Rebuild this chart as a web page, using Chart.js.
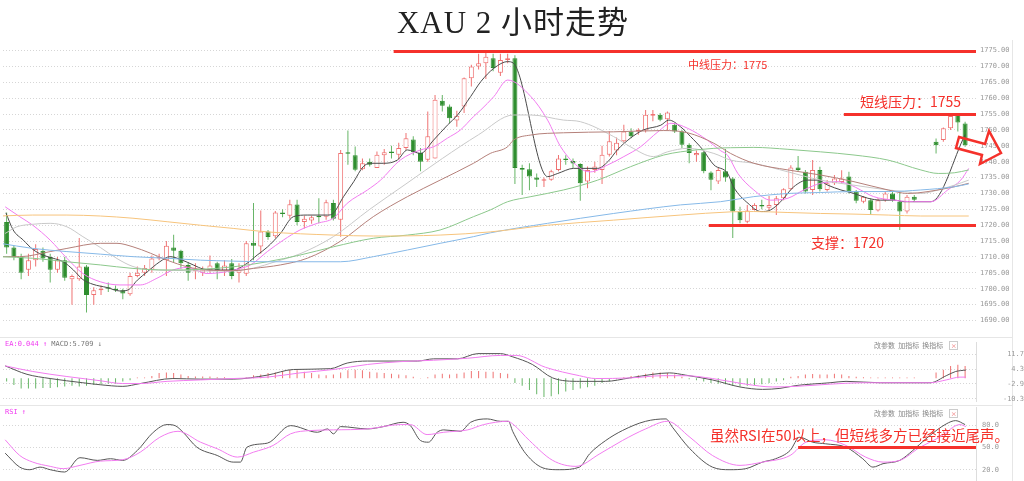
<!DOCTYPE html>
<html lang="zh">
<head>
<meta charset="utf-8">
<title>XAU 2 小时走势</title>
<script src="https://cdn.jsdelivr.net/npm/chart.js@4.4.1/dist/chart.umd.min.js"></script>
<style>
  html, body { margin: 0; padding: 0; background: #fff; }
  #wrap { position: relative; width: 1024px; height: 481px; overflow: hidden; background: #fff; }
  #wrap canvas { position: absolute; left: 0; }
  .lbl { position: absolute; white-space: nowrap; line-height: 1; font-family: "Noto Sans CJK SC", sans-serif; }
  .red { color: #f5312b; }
  .tiny { font-family: "DejaVu Sans Mono", monospace; font-size: 7px; color: #777; }
  .tool { font-size: 7px; color: #888; }
  .xbox { display: inline-block; width: 7px; height: 7px; border: 1px solid #ccc; color: #e66; font-size: 6px; line-height: 7px; text-align: center; margin-left: 6px; }
  .rule { position: absolute; background: #e6e6e6; }
</style>
</head>
<body>
<div id="wrap">
  <div class="rule" style="left:0;top:337px;width:1012px;height:1px"></div>
  <div class="rule" style="left:0;top:405px;width:1012px;height:1px"></div>
  <div class="rule" style="left:1012px;top:40px;width:1px;height:441px"></div>
  <canvas id="mainChart" width="1024" height="347" style="top:0"></canvas>
  <canvas id="macdChart" width="1024" height="90" style="top:327px"></canvas>
  <canvas id="rsiChart" width="1024" height="94" style="top:397px"></canvas>

  <div class="lbl" style="left:0;width:1026px;top:7px;text-align:center;font-size:31px;letter-spacing:1px;color:#222;font-family:'Liberation Serif','Noto Sans CJK SC',serif">XAU 2 小时走势</div>
  <div class="lbl red" style="left:688px;top:59px;font-size:11px">中线压力：1775</div>
  <div class="lbl red" style="left:860px;top:94px;font-size:14px">短线压力：1755</div>
  <div class="lbl red" style="left:811px;top:235px;font-size:14px">支撑：1720</div>
  <div class="lbl red" style="left:710px;top:428px;font-size:14.5px">虽然RSI在50以上，但短线多方已经接近尾声。</div>

  <div class="lbl tiny" style="left:5px;top:341px"><span style="color:#f03cf0">EA:0.044 ↑</span> MACD:5.709 ↓</div>
  <div class="lbl tool" style="left:874px;top:341px">改参数&nbsp;&nbsp;加指标&nbsp;&nbsp;换指标<span class="xbox">×</span></div>
  <div class="lbl tiny" style="left:5px;top:409px;color:#f03cf0">RSI ↑</div>
  <div class="lbl tool" style="left:874px;top:409px">改参数&nbsp;&nbsp;加指标&nbsp;&nbsp;换指标<span class="xbox">×</span></div>
</div>
<script>
// axis ticks
const mainTicks = [1690, 1695, 1700, 1705, 1710, 1715, 1720, 1725, 1730, 1735, 1740, 1745, 1750, 1755, 1760, 1765, 1770, 1775];
const macdTicks = [11.7, 4.3, -2.9, -10.3];
const rsiTicks = [80, 50, 20];

// 2h candles (null = no trading slot)
const candleOpen = [
  1721, 1713, 1710, 1706, 1709, 1712, 1710, 1706, 1709, 1703,
  1703, 1707, 1698, 1699.5, 1700.5, 1700, 1699.5, 1698.3, 1704, 1705,
  1706, 1709.5, 1709, 1713, 1712, 1707.5, 1705.5, 1705, 1706, 1708,
  1705.7, 1708, 1705, 1704.7, 1714.5, 1713.3, 1718, 1716.5, 1724, 1723,
  1726.5, 1721, 1721.5, 1723, 1722.7, 1727, 1721.7, 1743, 1742, 1737.6,
  1740, 1738, 1742, 1743, 1742.2, 1744.3, 1747, 1742.7, 1740.6, 1741,
  1759.2, 1757.4, 1753, 1757.4, 1766.3, 1770, 1771, 1772.6, 1768, 1772,
  1772.6, 1738, 1737.6, 1735, 1734, 1734.3, 1737.4, 1741, 1740.2, 1739.3,
  1733.8, 1737.4, 1737.4, 1742.2, 1743.5, 1746.4, 1749.5, 1749.5, 1749.8, 1754.5,
  1754.8, 1753.4, 1751.6, 1749.5, 1745.3, 1742, 1743, 1736.6, 1733.8, 1737,
  1734.7, 1724.3, 1721.1, 1724.8, 1726.4, 1725.5, 1726.4, 1728.5, 1731.3, 1738.2,
  1736.8, 1731.1, 1737.4, 1731.1, 1733.2, 1733.6, 1735.3, 1730.6, 1727.4, 1727.9,
  1724.6, 1727.9, 1730, 1727.4, 1724.3, 1729, null, null, 1746.3, 1746.8,
  1750.5, 1754.7, 1752
];
const candleHigh = [
  1724, 1713.5, 1711, 1711, 1714, 1713, 1711, 1710, 1710, 1704.5,
  1716, 1707.5, 1700.5, 1701, 1702, 1701, 1700, 1705, 1707, 1707.5,
  1710.5, 1711, 1715, 1717, 1712.3, 1708.4, 1708, 1707, 1710.5, 1708.5,
  1709, 1709.4, 1708, 1715, 1727, 1724.6, 1718.5, 1724.5, 1725, 1728,
  1728, 1723, 1723, 1728.5, 1728, 1728, 1743.7, 1749.8, 1744.8, 1741,
  1741, 1743.2, 1744, 1745, 1746, 1749, 1748, 1744.3, 1755.8, 1761,
  1761, 1758, 1756, 1766.5, 1770.5, 1774, 1775, 1774, 1774, 1774,
  1773.5, 1739, 1739.5, 1736.3, 1735, 1737.5, 1742.1, 1742, 1741, 1739.5,
  1738.5, 1740, 1745, 1749.6, 1747.6, 1751.6, 1750.5, 1750.5, 1756.3, 1756.3,
  1755.3, 1755.8, 1752.1, 1750, 1745.8, 1743.5, 1743.2, 1737, 1738, 1744,
  1735.2, 1725.8, 1726.4, 1726.9, 1728, 1729.2, 1729.2, 1731.6, 1738.9, 1741.8,
  1737.4, 1740.5, 1738.4, 1734.2, 1735.8, 1737.3, 1736.8, 1731.1, 1729.2, 1728.5,
  1728.5, 1730.6, 1730.6, 1730.6, 1729.5, 1729.5, null, null, 1747.3, 1750.8,
  1754.7, 1755.2, 1752.6
];
const candleLow = [
  1711, 1709, 1703, 1704, 1707, 1708.5, 1702, 1705, 1702.5, 1695,
  1702.5, 1692.5, 1695, 1698, 1699, 1699, 1696.7, 1697.8, 1703.6, 1704,
  1705, 1709, 1704, 1708.4, 1706.3, 1702.5, 1703, 1704, 1705, 1703,
  1704, 1703, 1702, 1704, 1709, 1711, 1715.4, 1716, 1722.5, 1722,
  1720, 1719, 1720.5, 1720.6, 1721.7, 1721.5, 1716.4, 1739, 1737, 1737.3,
  1738.5, 1738, 1739, 1741, 1740.6, 1743.7, 1742, 1737, 1740, 1741,
  1755.8, 1752, 1751, 1755.3, 1763.7, 1769, 1766, 1768.5, 1767, 1771,
  1733, 1729.5, 1731, 1732, 1732, 1734, 1737, 1739, 1738, 1727.7,
  1731.6, 1736.5, 1733, 1741.6, 1742, 1745.8, 1747.4, 1748.5, 1749.2, 1752.7,
  1752.7, 1750, 1749, 1744.3, 1739.5, 1740, 1736.4, 1731, 1733, 1733.7,
  1716, 1720.6, 1720.6, 1724.6, 1725, 1724.8, 1723.2, 1727.9, 1731.1, 1736.8,
  1730, 1729.5, 1730.6, 1730.6, 1732.7, 1733, 1730, 1726.9, 1726.9, 1723.2,
  1724.3, 1727.4, 1727.4, 1718.5, 1723.7, 1727.4, null, null, 1742.6, 1746.3,
  1750, 1749.5, 1744.7
];
const candleClose = [
  1713, 1710, 1705, 1709, 1712.5, 1709.5, 1706, 1709, 1703.5, 1704,
  1707, 1698, 1699.5, 1700, 1700, 1699.5, 1698.5, 1704, 1705, 1706.5,
  1709.5, 1710, 1713.5, 1712, 1708, 1705, 1706, 1706, 1707.3, 1705.7,
  1707.3, 1704, 1706, 1714.3, 1713.5, 1718, 1716.3, 1724, 1723.5, 1726.6,
  1721, 1722, 1722.5, 1722.5, 1727.2, 1722, 1742.7, 1742.5, 1737.5, 1739.5,
  1739, 1742.2, 1743, 1742.7, 1744.3, 1747.4, 1743, 1740, 1748, 1759.5,
  1757.6, 1753.7, 1754.5, 1766.3, 1770, 1771, 1773, 1769.5, 1772, 1772.6,
  1738, 1737.5, 1735.3, 1734.3, 1734.5, 1737, 1741, 1740.5, 1739.4, 1733.2,
  1737.4, 1738.5, 1742.2, 1746.4, 1746, 1749.5, 1748, 1750, 1754.8, 1755,
  1753.2, 1755.5, 1749.5, 1745.3, 1742.7, 1742.7, 1737, 1734.3, 1737.4, 1735,
  1724.3, 1721.6, 1724.6, 1726.4, 1725.9, 1726.4, 1728.5, 1731.3, 1738.2, 1737.4,
  1730.6, 1737.4, 1731.3, 1733.2, 1734.7, 1734.7, 1730.6, 1727.7, 1729, 1724.8,
  1727.9, 1730, 1727.9, 1724.3, 1729, 1728, null, null, 1745.2, 1750.5,
  1754.4, 1752.3, 1745.2
];

// moving averages: [candle slot, price]
const ma5 = [[-0.1,1723.9],[0.9,1718.5],[2.3,1715.3],[3.6,1712.4],[5,1710.6],[6.4,1709.6],[7.8,1708.5],[9.2,1705.9],[10.5,1702.9],[11.9,1701.4],[13.8,1700.4],[15.6,1699.3],[16.7,1699.6],[18,1702.7],[19.4,1705.4],[21.1,1708.5],[22.5,1710.1],[24.2,1709],[25.7,1707.5],[27.1,1706.2],[29,1705.9],[31.2,1705.9],[33.1,1708],[34.5,1710.6],[35.9,1713.1],[37.7,1717.4],[39.5,1722.7],[41.4,1723.2],[44.2,1723.2],[45,1723.8],[46.4,1729],[47.8,1733.7],[49.1,1738.4],[50.1,1739.5],[51.9,1739.5],[53.8,1740.5],[55.2,1743.7],[57,1742.6],[58.8,1746.8],[60.7,1751.5],[62.1,1754.7],[63.9,1760.5],[65.3,1765.2],[67.1,1769.4],[69,1771.5],[69.8,1771],[74.5,1735.3],[75.9,1736.3],[78.1,1737.9],[81.4,1737.9],[82.8,1740],[84.1,1743.7],[85.9,1747.4],[87.7,1750],[90.1,1751.5],[91.2,1753.1],[92.8,1751],[94.2,1747.9],[95.9,1743.7],[97.4,1739],[99.3,1736.3],[100.1,1732.1],[102.1,1726.9],[103.9,1724.3],[105.2,1724.8],[106.6,1727.4],[108.4,1732.1],[110.3,1734.2],[111.7,1734.2],[113.1,1732.6],[114.9,1731.1],[116.7,1730],[118.6,1728.5],[120.4,1727.9],[122.2,1727.9],[123.6,1727.4],[127.3,1727.4],[132,1748.5]];
const ma10 = [[-0.2,1725.8],[1.8,1722.7],[3.6,1720],[6,1715.3],[8.3,1709.6],[10.5,1704.8],[12.9,1702.2],[15.6,1701.2],[18.4,1701.2],[20.7,1703.3],[22.9,1705.9],[24.9,1706.7],[27.6,1704.8],[30.4,1705.4],[32.2,1706.4],[33.6,1707.5],[35.9,1711.7],[38.1,1715.3],[40.4,1718.5],[42.8,1720.6],[45,1722.2],[46.9,1726.9],[49.7,1731.1],[51.5,1734.2],[54.2,1740.5],[57,1743.7],[58.8,1744.7],[60.7,1747.4],[62.5,1750],[64.3,1754.2],[65.3,1756.3],[67.1,1760.5],[69,1765.7],[72.2,1760.5],[74.5,1753.1],[76.3,1744.7],[79,1737.9],[80.4,1736.8],[82.8,1739],[85,1741.6],[87.3,1744.7],[89.7,1749.4],[91.5,1752.1],[93.8,1750.5],[96.5,1746.8],[98.3,1743.5],[99.3,1742],[100.7,1736.3],[102.9,1731.1],[105.2,1727.9],[107.6,1728.5],[109.8,1731.1],[112.1,1733.2],[114.5,1733.7],[116.3,1732.6],[117.6,1731.1],[119.4,1729],[122.2,1727.9],[124.9,1727.4],[127.3,1727.4],[129.6,1731.1],[131.4,1734.2],[132.5,1737.9]];
const ma20 = [[-0.2,1717.4],[1.4,1719.5],[3.6,1720.3],[6,1720.6],[8.3,1719.5],[10.5,1716.4],[12.9,1713],[15.2,1709.5],[17.4,1707],[19.8,1706],[23,1705.8],[27,1705.6],[31,1705.6],[34,1706.5],[37,1708.5],[40.4,1711],[45,1716.4],[50,1725],[55,1733],[60,1741],[65,1748.5],[69.8,1754.7],[72.2,1754.7],[76.7,1753.1],[79,1752.6],[83.6,1747.9],[85.9,1744.7],[89.1,1741.6],[91,1743.1],[93.8,1744.2],[97.4,1742.6],[99.7,1740.5],[102.9,1739.5],[107.6,1736.8],[112.1,1734.2],[116.7,1732.6],[121.4,1731.1],[123.6,1730.6],[125.9,1730],[128.3,1731.1],[130.5,1732.6],[132.5,1734.2]];
const ma30 = [[-0.9,1710.1],[1.8,1710.1],[6,1711.7],[8.3,1712.7],[12.9,1714.3],[15.2,1714.3],[17.4,1713.2],[19.8,1711.2],[22.1,1709],[24.9,1706.9],[27.6,1705.9],[31.2,1705.7],[34,1706.4],[37.7,1707.5],[41.4,1709.6],[46,1715],[50.5,1722.7],[55.2,1729],[59.7,1734.2],[64.3,1739.5],[66.6,1742.6],[69,1744.7],[69.8,1746.8],[72.2,1748.4],[76.7,1749.1],[83.6,1749.4],[90.5,1749.8],[93.8,1749.1],[97.4,1745.8],[99.7,1742.6],[102.9,1739.5],[107.6,1737.4],[112.1,1735.8],[116.7,1733.7],[121.4,1731.1],[124.1,1730],[126.9,1730.6],[130.5,1732.1],[132.5,1733.2]];
const ma60 = [[-0.9,1710.1],[3.6,1709.6],[8.3,1708.5],[12.9,1707.5],[17.4,1706.4],[22.1,1705.9],[26.7,1706.1],[31.2,1706.9],[35.9,1708.5],[40.4,1710.6],[45,1713.2],[50.5,1715.9],[55.2,1716.9],[59.7,1718.5],[64.3,1722.7],[66.6,1724.8],[69,1727.4],[72.2,1729],[76.7,1731.1],[81.4,1734.2],[85.9,1738.4],[90.5,1742.1],[92.8,1743.1],[97.4,1744.2],[99.7,1744.4],[102.9,1744.5],[107.6,1743.9],[112.1,1743.1],[116.7,1742.1],[121.4,1740.5],[125.9,1737.4],[128.3,1736.3],[130.5,1736.5],[132.5,1737.4]];
const ma120 = [[-0.9,1714.3],[3.6,1712.7],[8.3,1711.7],[12.9,1710.9],[17.4,1710.1],[22.1,1709.6],[26.7,1709],[31.2,1708.7],[35.9,1708.5],[46,1708.5],[50.5,1710.1],[55.2,1712.2],[59.7,1714.3],[64.3,1716.4],[66.6,1717.6],[74.5,1720.6],[83.6,1723.7],[92.8,1726.4],[98.3,1727.4],[102.9,1729],[107.6,1730],[112.1,1730.3],[116.7,1730.6],[121.4,1730.6],[125.9,1731.1],[130.5,1732.1],[132.5,1733]];
const ma250 = [[-0.9,1722.9],[3.6,1723.2],[8.3,1723.2],[12.9,1722.9],[17.4,1722.2],[22.1,1721.1],[26.7,1720],[31.2,1719],[35.9,1717.9],[45,1716.9],[50.5,1716.6],[59.7,1716.9],[66.6,1717.9],[74.5,1720],[83.6,1721.6],[92.8,1723.2],[99.7,1724.2],[102.9,1724.3],[107.6,1724],[112.1,1723.7],[116.7,1723.5],[121.4,1723.2],[125.9,1722.9],[132.5,1722.9]];

// MACD
const macdDif = [[-0.2,6.1],[2.8,1.9],[6,-0.2],[10.5,-2.3],[12.9,-3.3],[16,-4.1],[18.4,-2.7],[22.9,-0.2],[26.7,-0.5],[31.2,-0.5],[35.9,1.5],[39.5,4.3],[44.6,4.7],[46.9,7.5],[49.7,8.5],[56.6,8.5],[58.8,9.6],[62.1,9.6],[64.9,12.2],[68,12.2],[69.7,10.6],[72.4,6.8],[75.2,0.1],[78.9,-1.6],[82.5,-1.6],[85.8,0.1],[89,1.9],[91.3,2.6],[93.5,1.5],[97.2,-0.9],[101,-4.4],[104.1,-5.6],[106.5,-5.1],[108.7,-3.7],[113.4,-2.3],[115.6,-1.6],[120.3,-2.3],[127.2,-2.3],[129.4,1.2],[130.7,3.3],[132.1,4]];
const macdDea = [[-0.2,6.1],[3.6,3.3],[8.3,0.8],[12.9,-1.3],[16,-2.7],[18.4,-2.7],[22.1,-1.6],[26.7,-0.9],[31.2,-0.2],[35.9,0.5],[40.4,2.6],[45,4.3],[49.7,6.8],[54.2,8.2],[58.8,8.9],[63.5,9.9],[68,11.3],[70.2,11.3],[74.2,5.4],[78.9,1.2],[81.1,-0.2],[85.8,0.1],[90.4,1.2],[93.5,1.2],[97.2,-0.2],[101.8,-3],[105.5,-4.4],[108.7,-4.1],[113.4,-3],[117.9,-2.3],[127.2,-2.3],[129.4,-0.9],[131.3,0.5],[132.1,0.5]];
const macdHist = [
  -1.7, -3.4, -5.2, -5.2, -5.2, -4.9, -4.9, -4.5, -4.2, -3.8,
  -4.2, -3.8, -3.4, -3.1, -2.8, -2.8, -1.7, -1.0, 0.3, 0.3,
  1.1, 2.5, 2.8, 2.5, 1.8, 1.1, 0.8, 0.8, 0.8, 0.4,
  0.4, 0.1, 0.1, 0.3, 1.4, 1.8, 2.5, 2.8, 3.6, 4.2,
  3.9, 3.2, 2.5, 1.8, 1.4, 1.8, 2.8, 3.9, 4.2, 3.9,
  3.2, 2.8, 2.5, 2.2, 1.8, 1.4, 0.7, 0.1, 0.4, 1.8,
  2.2, 1.8, 2.2, 2.8, 3.6, 3.6, 3.2, 3.2, 2.5, 2.2,
  -2.4, -3.8, -5.9, -8.0, -9.4, -9.0, -8.0, -6.6, -5.9, -5.2,
  -4.5, -3.8, -2.4, -1.7, -0.6, 0.4, 1.1, 1.4, 2.2, 2.8,
  2.8, 2.5, 1.8, 0.7, -0.6, -1.0, -1.7, -2.4, -2.8, -3.1,
  -3.8, -4.2, -3.8, -3.4, -3.1, -2.4, -1.7, -1.0, 0.7, 1.1,
  1.8, 2.1, 1.8, 1.8, 2.2, 1.8, 1.1, 0.7, 0.4, 0.3,
  0.3, 0.3, 0.3, 0.3, 0.3, 0.3, null, null, 2.8, 4.2,
  6.0, 6.7, 6.0
];

// RSI
const rsiFast = [[-0.2,42.4],[1.8,23.7],[3.2,20.2],[4.6,23.7],[6,20.2],[8,17.1],[10.1,36.3],[12.5,32.7],[14.3,34.9],[16,32.7],[18,46],[20.2,70.4],[22.1,80.7],[23.2,79.3],[24.3,70.4],[26.2,50.4],[29,39.3],[31.2,30.4],[32.2,30.4],[33.1,50.4],[35.9,55.8],[39.1,79.3],[42.8,70.4],[44.2,74.9],[45,68.3],[46,78],[49.7,74.9],[51.9,78],[54.6,83.8],[55.6,79.3],[57,59.3],[58.1,57.1],[59.3,70.4],[60.2,73.6],[62.5,71.7],[63.9,83.8],[66.2,88.3],[68,85.1],[69.1,85.1],[69.7,71.5],[71.5,41.6],[74.2,21.6],[76.1,20.2],[78.9,23.7],[80.3,41.6],[82.5,59.3],[84.8,72.7],[88,85.1],[90.8,88.3],[91.7,77.1],[94.1,48.3],[97.2,23.7],[99.6,20.2],[101.8,21.6],[104.1,30.4],[105.9,34.9],[107.9,46],[109.2,63.7],[111,57.1],[112.8,54.9],[115.6,50.4],[117.9,34.9],[119.3,23.7],[120.7,28.3],[123,32.7],[124.8,46],[126.6,61.6],[129.4,81.6],[130.7,86],[132,80.7]];
const rsiSlow = [[-0.2,60.3],[1.8,39.3],[3.6,30.4],[6,24.7],[7.8,21.6],[10.1,26],[12.9,31.7],[16,33.6],[18.4,43.7],[21.1,63.7],[23.6,71.7],[26.7,57.1],[29,48.3],[31.8,37.1],[34,43.7],[36.7,52.7],[39.1,68.3],[41.8,72.7],[45,73.6],[49.7,74.9],[54.2,80.7],[55.6,80.7],[57.9,67.3],[60.2,70.4],[63.5,73.6],[65.7,80.7],[69,85.1],[69.7,81.6],[72,59.3],[75.2,32.7],[78.4,24.7],[81.7,41.6],[84.8,59.3],[88,74.9],[91,85.1],[94.1,63.7],[97.2,39.3],[101,26],[104.1,30.4],[107.9,39.3],[110.1,57.1],[112.8,60.3],[115.6,52.7],[118.3,37.1],[120.7,30.4],[123,32.7],[125.8,50.4],[128.5,63.7],[131.3,80.7],[132.1,78]];

// marked levels: price, first slot of the line
const levelPrice = [1775, 1755, 1720];
const levelFrom = [53.3, 115.3, 96.7];
const rsiMark = 50;
const rsiMarkFrom = 109;

const RED = '#f5312b';
const UP_LINE = '#ef7272';
const DOWN_FILL = '#2f8e2f';
const DOWN_WICK = '#66b566';

const slots = candleOpen.map((v, i) => i).filter(i => candleOpen[i] !== null);
const isUp = i => candleClose[i] >= candleOpen[i];

const line = (pts, color) => ({
  type: 'line', data: pts.map(([x, y]) => ({ x, y })), borderColor: color, borderWidth: 1,
  pointRadius: 0, cubicInterpolationMode: 'monotone', fill: false, order: 0
});

function options(yMin, yMax, ticks, digits, pad, crossAlign, top, bottom, border) {
  return {
    responsive: false, animation: false, events: [],
    layout: { padding: { left: 3, right: 0, top: top, bottom: bottom } },
    plugins: { legend: { display: false }, tooltip: { enabled: false } },
    scales: {
      x: { type: 'linear', min: -0.5, max: 133.5, offset: false, display: false },
      y: {
        position: 'right', min: yMin, max: yMax,
        afterBuildTicks: s => { s.ticks = ticks.map(v => ({ value: v })); },
        afterFit: s => { s.width = 48; },
        ticks: { autoSkip: false, padding: pad, crossAlign: crossAlign, color: '#999',
                 font: { family: 'DejaVu Sans Mono', size: 7 }, callback: v => v.toFixed(digits) },
        grid: { color: '#d6d6d6', drawTicks: false },
        border: { display: border, color: '#dddddd', dash: [1, 2] }
      }
    }
  };
}

const levels = {
  id: 'levels',
  afterDraw(chart) {
    const { ctx, chartArea, scales: { x, y } } = chart;
    ctx.save();
    ctx.strokeStyle = RED;
    ctx.lineWidth = 3;
    levelPrice.forEach((p, k) => {
      const py = Math.round(y.getPixelForValue(p)) + 0.5;
      ctx.beginPath();
      ctx.moveTo(x.getPixelForValue(levelFrom[k]), py);
      ctx.lineTo(chartArea.right, py);
      ctx.stroke();
    });
    // hollow arrow pointing down-right
    ctx.lineWidth = 2.5;
    ctx.lineJoin = 'miter';
    ctx.beginPath();
    ctx.moveTo(959, 137);
    ctx.lineTo(985, 144);
    ctx.lineTo(989, 131);
    ctx.lineTo(1001, 153);
    ctx.lineTo(980, 164);
    ctx.lineTo(982, 155);
    ctx.lineTo(956, 148);
    ctx.closePath();
    ctx.stroke();
    ctx.restore();
  }
};

const rsiLevel = {
  id: 'rsiLevel',
  afterDraw(chart) {
    const { ctx, chartArea, scales: { x, y } } = chart;
    const py = Math.round(y.getPixelForValue(rsiMark)) + 0.5;
    ctx.save();
    ctx.strokeStyle = RED;
    ctx.lineWidth = 3;
    ctx.beginPath();
    ctx.moveTo(x.getPixelForValue(rsiMarkFrom), py);
    ctx.lineTo(chartArea.right, py);
    ctx.stroke();
    ctx.restore();
  }
};

new Chart(document.getElementById('mainChart'), {
  type: 'bar',
  data: {
    datasets: [
      { type: 'bar', data: slots.map(i => ({ x: i, y: [candleOpen[i], candleClose[i]] })),
        backgroundColor: slots.map(i => isUp(i) ? '#ffffff' : DOWN_FILL),
        borderColor: slots.map(i => isUp(i) ? UP_LINE : DOWN_FILL),
        borderWidth: 1, borderSkipped: false, maxBarThickness: 5, minBarLength: 1.5, grouped: false, order: 1 },
      { type: 'bar', data: slots.map(i => ({ x: i, y: [candleLow[i], candleHigh[i]] })),
        backgroundColor: slots.map(i => isUp(i) ? UP_LINE : DOWN_WICK),
        maxBarThickness: 1, grouped: false, order: 2 },
      line(ma250, '#f7c47c'),
      line(ma120, '#86b9e8'),
      line(ma60, '#8cc88c'),
      line(ma30, '#b5807a'),
      line(ma20, '#c9c9c9'),
      line(ma10, '#f27cf0'),
      line(ma5, '#4a4a4a')
    ]
  },
  options: options(1685.44, 1778.31, mainTicks, 2, 4, 'near', 40, 12, false),
  plugins: [levels]
});

new Chart(document.getElementById('macdChart'), {
  type: 'bar',
  data: {
    datasets: [
      { type: 'bar', data: slots.map(i => ({ x: i, y: macdHist[i] })),
        backgroundColor: slots.map(i => macdHist[i] >= 0 ? UP_LINE : DOWN_WICK),
        maxBarThickness: 1, grouped: false, order: 1 },
      line(macdDea, '#f27cf0'),
      line(macdDif, '#555555')
    ]
  },
  options: options(-11.78, 17.88, macdTicks, 1, 11, 'far', 10, 10, true)
});

new Chart(document.getElementById('rsiChart'), {
  type: 'line',
  data: {
    datasets: [
      line(rsiSlow, '#f27cf0'),
      line(rsiFast, '#555555')
    ]
  },
  options: options(5.33, 104, rsiTicks, 1, 6, 'near', 10, 10, true),
  plugins: [rsiLevel]
});
</script>
</body>
</html>
